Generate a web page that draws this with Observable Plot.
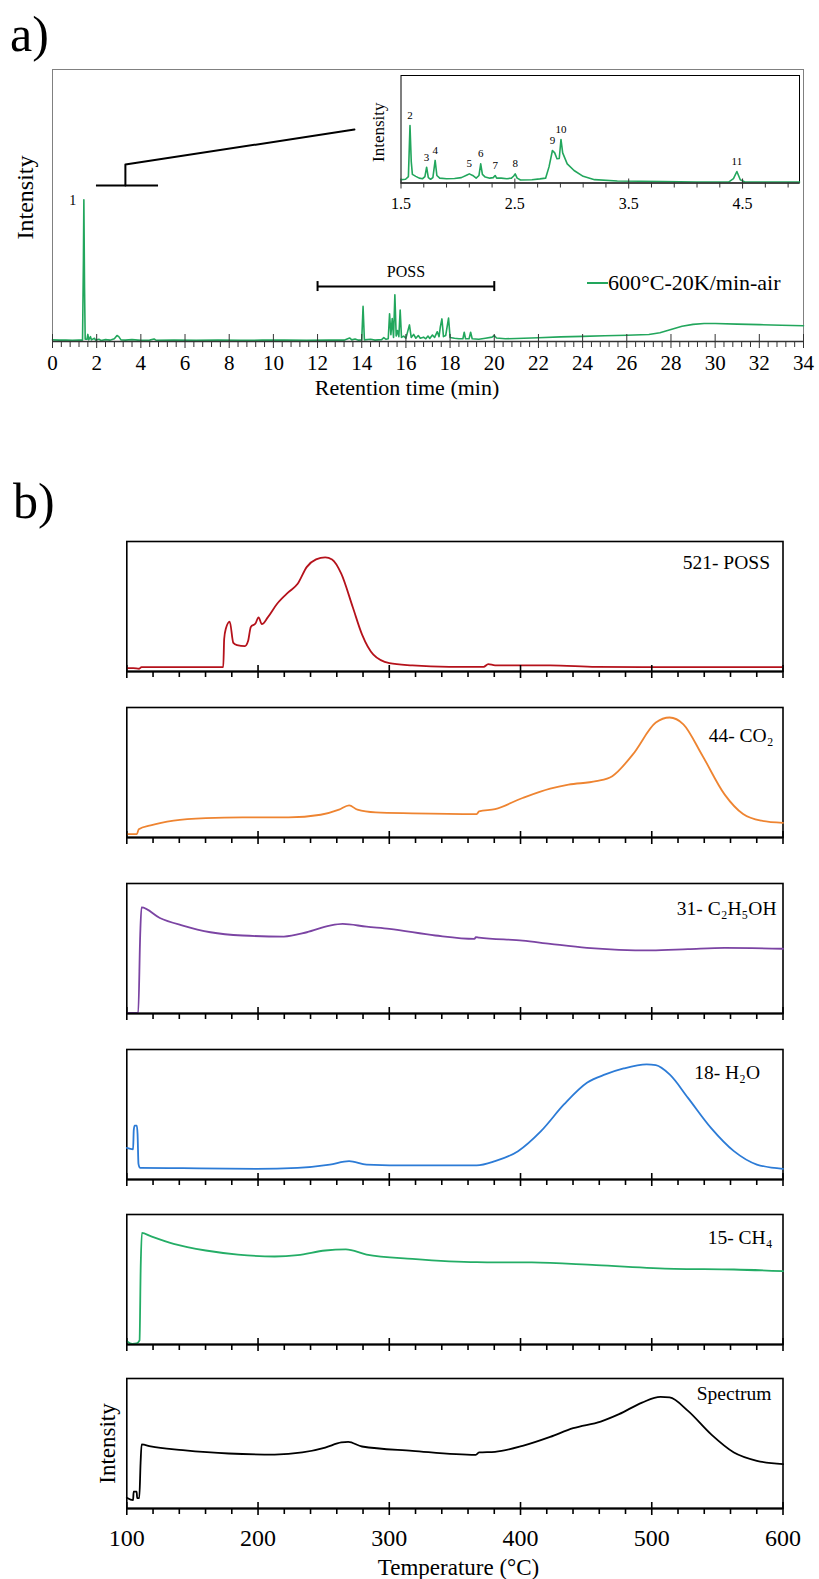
<!DOCTYPE html>
<html>
<head>
<meta charset="utf-8">
<script src="https://cdn.jsdelivr.net/npm/d3@7"></script>
<script src="https://cdn.jsdelivr.net/npm/@observablehq/plot@0.6"></script>
<style>
  body { margin: 0; background: #fff; }
  #page { position: relative; width: 819px; height: 1579px; overflow: hidden;
          font-family: "Liberation Serif", "Times New Roman", serif; color: #000; }
  .abs { position: absolute; }
  .panel-tag { font-size: 50px; line-height: 50px; }
  .legend { display: flex; align-items: center; font-size: 22px; line-height: 24px; white-space: nowrap; }
</style>
</head>
<body>
<div id="page"></div>
<script>
// ---------- a) Py-GC/MS chromatogram, 600 °C, 20 K/min, air ----------
const chromTime = [0,0.3,0.6,0.9,1.2,1.36,1.40,1.42,1.45,1.48,1.56,1.6,1.64,1.72,1.76,1.9,1.95,2.1,2.2,2.4,2.6,2.8,2.92,3.0,3.1,3.3,3.6,4.0,4.4,4.6,4.7,5.5,6.5,7.5,8.5,9.5,10.5,11.5,12.5,13.2,13.45,13.55,13.7,13.85,14.0,14.06,14.12,14.4,14.6,14.9,15.0,15.1,15.2,15.26,15.32,15.38,15.44,15.50,15.56,15.62,15.68,15.74,15.8,15.9,16.0,16.16,16.24,16.35,16.45,16.56,16.65,16.8,16.9,17.0,17.08,17.2,17.3,17.42,17.5,17.56,17.63,17.7,17.8,17.93,18.0,18.2,18.4,18.58,18.64,18.7,18.86,18.93,19.0,19.3,19.6,19.9,20.0,20.1,20.5,21,22,23,24,25,26,27,27.5,28,28.5,29,29.5,30,31,32,33,34];
const chromSignal = [0.6,0.5,0.5,0.4,0.5,0.5,30,52.1,20,0.8,0.8,2.6,0.6,1.8,0.6,1.2,0.5,0.8,0.4,0.7,0.5,1.0,2.2,1.8,0.6,0.5,0.7,0.4,0.5,0.9,0.4,0.5,0.4,0.5,0.4,0.5,0.5,0.4,0.5,0.5,1.3,0.6,0.9,0.5,0.6,12.9,0.6,0.8,0.5,0.7,1.4,0.8,1.0,10.2,2.5,8.4,1.5,17.2,2.0,4.0,1.8,11.6,1.5,2.0,1.2,6.1,1.5,2.6,1.2,2.2,1.2,1.6,1.0,2.0,1.1,2.4,1.5,3.6,1.8,5.5,8.3,1.8,2.2,8.6,1.5,1.2,1.0,1.0,3.4,1.0,1.0,3.4,1.0,0.8,1.2,1.6,2.2,1.3,1.0,1.1,1.4,1.7,1.9,2.1,2.3,2.6,3.2,4.4,5.6,6.3,6.6,6.6,6.4,6.2,6.0,5.8];
const retMajor = d3.range(0, 35, 2);                        // 0 … 34 min
const retMinor = d3.range(0, 86).filter(i => i % 5).map(i => i * 0.4);
const mainPeakLabel = ["1"], mainPeakTime = [1.42], mainPeakHeight = [52.1];
const possStart = 12, possEnd = 20, possLevel = 20.2;
const zoomStart = 1.99, zoomEnd = 4.80, zoomLevel = 57.35;
const connectorTime = [3.30, 3.30, 13.67], connectorLevel = [57.35, 65.07, 77.9];

// inset: 1.5 – 5.0 min
const insetTime = [1.50,1.54,1.565,1.579,1.59,1.60,1.63,1.66,1.69,1.71,1.725,1.74,1.76,1.78,1.80,1.815,1.84,1.9,1.97,2.03,2.08,2.10,2.13,2.16,2.185,2.20,2.215,2.24,2.28,2.31,2.327,2.34,2.38,2.43,2.47,2.49,2.503,2.52,2.55,2.65,2.72,2.77,2.80,2.83,2.85,2.87,2.89,2.905,2.92,2.96,3.02,3.1,3.2,3.4,3.8,4.1,4.38,4.42,4.45,4.48,4.52,4.7,5.0];
const insetSignal = [3.0,3.5,6,53.5,20,8,6.2,4.5,4.0,6,14.7,5,3.5,5,21,7,4.5,4.0,4.2,5.0,7.5,8.5,7,4.5,7,17.8,8,5.5,4.5,5,7,4.5,4.5,4.0,4.5,6.5,8.5,4.5,2.8,3.0,3.8,4.5,15,30.2,28,22.5,22.8,40.5,28,17.8,11.6,6.2,3.1,1.9,1.4,1.0,1.0,4,10.7,3,1.0,1.0,0.9];
const insetPeakLabel = ["2","3","4","5","6","7","8","9","10","11"];
const insetPeakTime = [1.579,1.725,1.80,2.10,2.20,2.327,2.503,2.83,2.905,4.45];
const insetPeakHeight = [53.5,14.7,21,8.5,17.8,7,8.5,30.2,40.5,10.7];
const insetMajor = [1.5, 2.5, 3.5, 4.5];
const insetMinor = d3.range(0, 18).filter(i => i % 5).map(i => 1.5 + i * 0.2);

// ---------- b) TG-MS ion currents, 100–600 °C ----------
const possTemp = [100,105,109.4,111.2,173.5,174.2,175.5,178.4,181.2,184,190,192.4,194.5,198,200.4,202.9,207.4,214.4,223.2,230.2,237.2,244.2,251.2,256.4,263.4,272.2,279.2,287.9,300.1,317.6,345.6,371.9,375.4,380.6,405.1,422.6,457.6,492.6,600];
const possSignal = [2.6,2.6,2.1,3.4,3.4,25,33,38.4,22,20.3,19.5,23.4,34.3,36.9,41.6,36.4,41.6,51.9,61,67.5,80.5,86.2,87.8,86.2,75.3,49.4,28.6,13,6.5,4.7,3.6,3.6,5.7,4.7,4.7,4.7,3.6,3.4,3.4];
const co2Temp = [100,107.7,109.1,118.2,135.7,160.2,188.2,223.2,247.7,261.7,269.4,275.7,289.7,317.6,366.6,368.4,380.6,401.6,422.6,436.6,457.6,469.9,485.6,503.1,513.6,524.1,538.1,555.6,569.6,583.6,600];
const co2Signal = [2.6,2.6,6.4,9.3,12.9,14.9,15.5,15.5,17.5,21.4,24.7,21.4,19.3,18.6,18,20.1,21.9,30.4,37.6,40.7,43.3,47.2,63.9,88.4,92.3,87.1,63.9,33,18,12.9,11.3];
const ethanolTemp = [100,108.7,110.2,111.2,125.2,142.7,163.7,188.2,219.7,237.2,254.7,264.5,282.7,300.1,335.1,364.9,366,368.4,401.6,422.6,450.6,475.1,499.6,527.6,555.6,600];
const ethanolSignal = [0.5,0.5,60,81.6,73.5,67.6,62.5,60,59.2,62.5,67.6,68.9,66.8,65.1,60,57.4,58.8,58.4,56.1,53.6,50.5,49,48.5,49.5,50.5,49.8];
const waterTemp = [100,104.8,105.3,106,107.6,108.2,108.9,110,142.7,198.7,230.2,254.7,269.4,282.7,317.6,366.6,380.6,398.1,415.6,433.1,450.6,464.6,478.6,496.1,503.1,513.6,527.6,545.1,562.6,580.1,600];
const waterSignal = [24.3,23.2,38,41.5,41.5,35,12,9,8.7,8.2,9,11.5,14.1,11.5,10.8,10.8,14.1,21.8,37.2,57.7,74.4,80.8,85.4,88.5,87.9,80.8,62.8,39.7,21.8,11.5,8.2];
const methaneTemp = [100,104.2,107.5,109.7,110.6,111.5,118.2,135.7,160.2,184.7,212.7,230.2,251.2,266.9,282.7,317.6,366.6,408.6,457.6,517.1,562.6,600];
const methaneSignal = [2.6,0.5,0.8,3.1,60,85.8,83.3,77.4,72.3,69.2,67.7,68.7,72.3,73.1,69.2,65.9,63.3,63.1,61,58.2,57.7,56.4];
const spectrumTemp = [100,104.8,105.2,107.5,107.9,109.5,110.5,111.3,118.2,142.7,177.7,212.7,233.7,251.2,263.4,268.7,279.2,317.6,365.9,368.4,380.6,401.6,422.6,440.1,461.1,475.1,492.6,506.6,513.6,527.6,545.1,562.6,580.1,600];
const spectrumSignal = [8.3,6.4,13,13,8,8,35,49.4,47.7,44.9,42.3,41.5,43.1,46.9,50.8,51.3,47.7,44.4,41.3,43.1,43.6,48.2,55.1,61.8,66.9,72.6,81.5,85.9,85.4,75.1,57.2,43.1,36.7,34.1];
const tempMajor = [100, 200, 300, 400, 500, 600];
const tempMinor = d3.range(100, 601, 20).filter(t => t % 100);

const gasLabels = ["521- POSS", "44- CO₂", "31- C₂H₅OH", "18- H₂O", "15- CH₄", "Spectrum"];
const gasColors = ["#b5121b", "#ee8431", "#7b44a3", "#2c7bd6", "#24ad66", "#000000"];

// ---------- layout helpers ----------
const FONT = '"Liberation Serif", "Times New Roman", serif';
const GREEN = "#22a65c";
const page = document.getElementById("page");
function place(node, left, top) {
  const wrap = document.createElement("div");
  wrap.className = "abs";
  wrap.style.left = left + "px";
  wrap.style.top = top + "px";
  wrap.appendChild(node);
  page.appendChild(wrap);
  return wrap;
}
const pts = (xs, ys) => xs.map((x, i) => ({x, y: ys[i]}));
const txt = {fontFamily: FONT, fill: "#000", textAnchor: "middle", lineAnchor: "middle"};

// ---------- a) main chromatogram ----------
{
  const mt = 69, mb = 59, h = 400;
  const ky = 100 / (h - mt - mb);           // y units per pixel
  const chart = Plot.plot({
    width: 819, height: h,
    marginLeft: 52, marginRight: 16, marginTop: mt, marginBottom: mb,
    x: {domain: [0, 34], axis: null},
    y: {domain: [0, 100], axis: null},
    style: {background: "transparent", fontFamily: FONT},
    marks: [
      Plot.frame({stroke: "#808080", strokeWidth: 1}),
      Plot.line(pts(chromTime, chromSignal), {x: "x", y: "y", stroke: GREEN, strokeWidth: 1.6}),
      Plot.ruleY([0], {stroke: "#333", strokeWidth: 1.5}),
      Plot.ruleX(retMinor, {x: d => d, y1: 0, y2: -6 * ky, stroke: "#333", strokeWidth: 1}),
      Plot.ruleX(retMajor, {x: d => d, y1: 7 * ky, y2: -7 * ky, stroke: "#333", strokeWidth: 1}),
      Plot.text(retMajor, {...txt, x: d => d, y: 0, dy: 21.5, text: d => String(d), fontSize: 21}),
      Plot.text(["Retention time (min)"], {...txt, frameAnchor: "bottom", dx: -21, dy: 46.5, fontSize: 22}),
      Plot.text(["Intensity"], {...txt, frameAnchor: "left", rotate: -90, dx: -27, dy: -8, fontSize: 24}),
      // peak 1
      Plot.text(mainPeakLabel, {...txt, x: (d, i) => mainPeakTime[i], y: (d, i) => mainPeakHeight[i], text: d => d, dx: -11, dy: 1, fontSize: 14}),
      // zoom connector towards the inset
      Plot.ruleY([zoomLevel], {x1: zoomStart, x2: zoomEnd, stroke: "#000", strokeWidth: 2}),
      Plot.line(pts(connectorTime, connectorLevel), {x: "x", y: "y", stroke: "#000", strokeWidth: 2}),
      // POSS range
      Plot.ruleY([possLevel], {x1: possStart, x2: possEnd, stroke: "#000", strokeWidth: 2}),
      Plot.ruleX([possStart, possEnd], {x: d => d, y1: possLevel - 5 * ky, y2: possLevel + 5 * ky, stroke: "#000", strokeWidth: 2}),
      Plot.text(["POSS"], {...txt, x: (possStart + possEnd) / 2, y: possLevel, dy: -15, fontSize: 16})
    ]
  });
  place(chart, 0, 0);
}

// ---------- a) inset, 1.5–5.0 min ----------
{
  const mt = 15, mb = 37.5, h = 160;
  const ky = 100 / (h - mt - mb);
  const inset = Plot.plot({
    width: 470, height: h,
    marginLeft: 60.5, marginRight: 11, marginTop: mt, marginBottom: mb,
    x: {domain: [1.5, 5.0], axis: null},
    y: {domain: [0, 100], axis: null},
    style: {background: "transparent", fontFamily: FONT},
    marks: [
      Plot.frame({stroke: "#000", strokeWidth: 1}),
      Plot.line(pts(insetTime, insetSignal), {x: "x", y: "y", stroke: GREEN, strokeWidth: 1.6}),
      Plot.ruleY([0], {stroke: "#333", strokeWidth: 1.3}),
      Plot.ruleX(insetMinor, {x: d => d, y1: 0, y2: -5 * ky, stroke: "#333", strokeWidth: 1}),
      Plot.ruleX(insetMajor, {x: d => d, y1: 4 * ky, y2: -6 * ky, stroke: "#333", strokeWidth: 1}),
      Plot.text(insetMajor, {...txt, x: d => d, y: 0, dy: 20.5, text: d => d.toFixed(1), fontSize: 16}),
      Plot.text(["Intensity"], {...txt, frameAnchor: "left", rotate: -90, dx: -22.5, dy: 3, fontSize: 17}),
      Plot.text(insetPeakLabel, {...txt, x: (d, i) => insetPeakTime[i], y: (d, i) => insetPeakHeight[i], text: d => d, dy: -10, fontSize: 11})
    ]
  });
  place(inset, 340, 60);
}

// legend of panel a
{
  const lg = document.createElement("div");
  lg.className = "legend";
  lg.innerHTML = '<svg width="21" height="24"><line x1="0" x2="21" y1="12" y2="12" stroke="' + GREEN + '" stroke-width="2"/></svg><span>600°C-20K/min-air</span>';
  place(lg, 587, 271);
}

// panel tags
for (const [tag, left, top] of [["a)", 10, 9], ["b)", 13, 476]]) {
  const d = document.createElement("div");
  d.className = "panel-tag";
  d.textContent = tag;
  place(d, left, top);
}

// ---------- b) stacked ion-current panels ----------
const gasSeries = [
  [possTemp, possSignal], [co2Temp, co2Signal], [ethanolTemp, ethanolSignal],
  [waterTemp, waterSignal], [methaneTemp, methaneSignal], [spectrumTemp, spectrumSignal]
];
const frameTops = [541, 706.5, 882.5, 1048.5, 1213.5, 1377.7];
const labelOffsets = [[-13, 21], [-9.5, 28.5], [-6.5, 25], [-23, 23], [-10.5, 23], [-11.5, 15.5]];

gasSeries.forEach(([temps, values], k) => {
  const last = k === gasSeries.length - 1;
  const mt = 10, inner = 130, mb = last ? 71.5 : 20;
  const h = mt + inner + mb;
  const ky = 100 / inner;
  const marks = [
    Plot.frame({stroke: "#000", strokeWidth: 1.6}),
    Plot.line(pts(temps, values), {x: "x", y: "y", stroke: gasColors[k], strokeWidth: 1.8, curve: "monotone-x"}),
    Plot.ruleY([0], {stroke: "#000", strokeWidth: 2.2}),
    Plot.ruleX(tempMinor, {x: d => d, y1: 0, y2: -6 * ky, stroke: "#000", strokeWidth: 1.6}),
    Plot.ruleX(tempMajor, {x: d => d, y1: 6 * ky, y2: -7 * ky, stroke: "#000", strokeWidth: 1.6}),
    Plot.text([gasLabels[k]], {...txt, frameAnchor: "top-right", textAnchor: "end", dx: labelOffsets[k][0], dy: labelOffsets[k][1], fontSize: 19.5})
  ];
  if (last) {
    marks.push(
      Plot.text(tempMajor, {...txt, x: d => d, y: 0, dy: 29.5, text: d => String(d), fontSize: 24}),
      Plot.text(["Temperature (°C)"], {...txt, frameAnchor: "bottom", dx: 3.6, dy: 59.5, fontSize: 23}),
      Plot.text(["Intensity"], {...txt, frameAnchor: "left", rotate: -90, dx: -19.3, dy: 0, fontSize: 23})
    );
  }
  const panel = Plot.plot({
    width: 819, height: h,
    marginLeft: 126.3, marginRight: 36.5, marginTop: mt, marginBottom: mb,
    x: {domain: [100, 600], axis: null},
    y: {domain: [0, 100], axis: null},
    style: {background: "transparent", fontFamily: FONT},
    marks
  });
  place(panel, 0, frameTops[k] - mt);
});
</script>
</body>
</html>
